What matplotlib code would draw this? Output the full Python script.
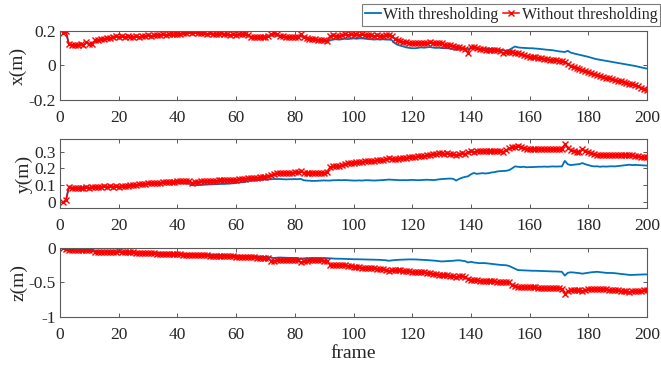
import numpy as np
import matplotlib
matplotlib.use('Agg')
import matplotlib.pyplot as plt
from matplotlib.ticker import FuncFormatter

plt.rcParams['font.family'] = ['Liberation Serif', 'DejaVu Serif']
plt.rcParams['axes.unicode_minus'] = False

frames = np.arange(1, 201)

# x(m)
x_with = [0.19,0.195,0.125,0.12,0.12,0.12,0.122,0.12,0.13,0.125,0.125,0.14,0.142,0.145,0.148,0.152,0.155,0.16,0.165,0.165,
          0.168,0.165,0.168,0.165,0.165,0.168,0.165,0.168,0.17,0.172,0.17,0.172,0.175,0.176,0.178,0.177,0.18,0.18,0.183,0.182,
          0.184,0.186,0.188,0.19,0.188,0.188,0.186,0.185,0.185,0.182,0.183,0.182,0.18,0.182,0.185,0.18,0.178,0.176,0.178,0.175,
          0.178,0.182,0.19,0.178,0.165,0.165,0.162,0.162,0.165,0.163,0.166,0.175,0.178,0.175,0.168,0.165,0.163,0.16,0.162,0.16,
          0.16,0.17,0.162,0.155,0.152,0.148,0.145,0.145,0.143,0.14,0.14,0.145,0.15,0.152,0.15,0.152,0.155,0.153,0.155,0.157,
          0.155,0.157,0.157,0.155,0.153,0.152,0.15,0.152,0.15,0.152,0.15,0.15,0.148,0.13,0.12,0.115,0.11,0.105,0.102,0.1,
          0.1,0.102,0.105,0.103,0.105,0.107,0.104,0.102,0.103,0.101,0.1,0.1,0.097,0.095,0.09,0.095,0.098,0.1,0.095,0.1,
          0.098,0.097,0.095,0.096,0.095,0.097,0.095,0.093,0.092,0.09,0.088,0.085,0.09,0.1,0.11,0.105,0.103,0.102,0.101,0.1,
          0.1,0.098,0.097,0.095,0.093,0.091,0.09,0.088,0.085,0.082,0.08,0.078,0.085,0.075,0.07,0.066,0.062,0.058,0.054,0.05,
          0.045,0.04,0.036,0.033,0.03,0.027,0.024,0.021,0.018,0.015,0.012,0.009,0.006,0.003,0.0,-0.003,-0.007,-0.011,-0.015,-0.018]
x_without = [0.19,0.20,0.125,0.12,0.12,0.12,0.125,0.12,0.135,0.125,0.125,0.15,0.15,0.155,0.155,0.16,0.16,0.165,0.17,0.165,
             0.17,0.165,0.17,0.165,0.165,0.17,0.165,0.17,0.17,0.175,0.17,0.175,0.175,0.178,0.18,0.178,0.18,0.182,0.185,0.183,
             0.185,0.188,0.19,0.195,0.19,0.192,0.19,0.188,0.19,0.185,0.188,0.185,0.183,0.185,0.19,0.182,0.18,0.178,0.18,0.178,
             0.18,0.182,0.185,0.178,0.165,0.168,0.165,0.165,0.168,0.165,0.17,0.18,0.19,0.18,0.172,0.17,0.168,0.165,0.168,0.165,
             0.165,0.182,0.168,0.16,0.155,0.155,0.152,0.15,0.148,0.145,0.142,0.172,0.175,0.17,0.172,0.178,0.18,0.175,0.182,0.178,
             0.18,0.178,0.182,0.175,0.178,0.175,0.172,0.175,0.17,0.172,0.175,0.178,0.172,0.155,0.145,0.14,0.138,0.135,0.132,0.13,
             0.128,0.13,0.128,0.13,0.132,0.135,0.13,0.128,0.13,0.128,0.12,0.118,0.12,0.115,0.11,0.105,0.1,0.095,0.075,0.11,
             0.108,0.1,0.095,0.095,0.09,0.092,0.09,0.09,0.088,0.085,0.072,0.078,0.08,0.078,0.075,0.07,0.065,0.06,0.056,0.052,
             0.05,0.048,0.045,0.042,0.04,0.037,0.034,0.032,0.03,0.027,0.025,0.022,0.01,-0.005,-0.01,-0.015,-0.02,-0.025,-0.03,-0.035,
             -0.045,-0.05,-0.055,-0.06,-0.065,-0.07,-0.075,-0.08,-0.085,-0.088,-0.092,-0.096,-0.1,-0.105,-0.11,-0.115,-0.12,-0.128,-0.135,-0.14]

# y(m)
y_with = [0.0,0.01,0.087,0.085,0.085,0.083,0.085,0.085,0.087,0.086,0.09,0.09,0.09,0.091,0.092,0.092,0.093,0.092,0.093,0.092,
          0.094,0.096,0.097,0.099,0.101,0.102,0.103,0.104,0.105,0.108,0.108,0.11,0.11,0.111,0.112,0.112,0.113,0.113,0.114,0.114,
          0.113,0.112,0.111,0.11,0.1,0.1,0.101,0.102,0.103,0.104,0.105,0.106,0.106,0.107,0.108,0.108,0.109,0.11,0.112,0.114,
          0.116,0.118,0.12,0.124,0.127,0.129,0.13,0.132,0.133,0.134,0.135,0.136,0.137,0.137,0.137,0.136,0.135,0.136,0.136,0.137,
          0.136,0.138,0.13,0.128,0.127,0.126,0.126,0.127,0.128,0.129,0.128,0.128,0.13,0.13,0.131,0.13,0.131,0.13,0.129,0.128,
          0.128,0.129,0.128,0.13,0.13,0.129,0.128,0.129,0.13,0.131,0.132,0.134,0.133,0.132,0.131,0.13,0.131,0.13,0.131,0.132,
          0.131,0.13,0.131,0.132,0.133,0.132,0.131,0.132,0.135,0.137,0.138,0.139,0.14,0.138,0.128,0.138,0.145,0.15,0.153,0.165,
          0.173,0.168,0.17,0.172,0.17,0.172,0.176,0.178,0.182,0.184,0.185,0.186,0.19,0.2,0.212,0.21,0.208,0.21,0.207,0.208,
          0.208,0.209,0.21,0.21,0.211,0.21,0.211,0.212,0.211,0.212,0.212,0.245,0.225,0.22,0.222,0.224,0.226,0.232,0.225,0.22,
          0.215,0.212,0.213,0.21,0.212,0.211,0.212,0.213,0.212,0.214,0.216,0.218,0.22,0.222,0.22,0.221,0.22,0.219,0.218,0.217]
y_without = [0.0,0.01,0.087,0.085,0.085,0.083,0.085,0.085,0.087,0.086,0.09,0.092,0.09,0.092,0.093,0.092,0.093,0.092,0.094,0.092,
             0.095,0.097,0.098,0.1,0.104,0.103,0.105,0.108,0.11,0.114,0.112,0.114,0.113,0.115,0.118,0.117,0.12,0.12,0.122,0.124,
             0.123,0.125,0.124,0.124,0.115,0.122,0.122,0.125,0.125,0.127,0.126,0.128,0.127,0.13,0.13,0.132,0.131,0.133,0.133,0.134,
             0.137,0.14,0.14,0.142,0.143,0.145,0.146,0.147,0.148,0.15,0.155,0.16,0.168,0.172,0.173,0.172,0.174,0.175,0.175,0.176,
             0.178,0.182,0.175,0.173,0.174,0.175,0.174,0.173,0.174,0.175,0.178,0.208,0.212,0.215,0.216,0.22,0.228,0.23,0.232,0.235,
             0.238,0.24,0.241,0.243,0.243,0.245,0.247,0.248,0.25,0.252,0.255,0.26,0.258,0.255,0.258,0.26,0.262,0.265,0.266,0.27,
             0.27,0.272,0.274,0.275,0.278,0.282,0.284,0.287,0.29,0.29,0.288,0.29,0.287,0.283,0.28,0.285,0.29,0.288,0.295,0.302,
             0.3,0.302,0.303,0.305,0.306,0.305,0.306,0.305,0.306,0.304,0.3,0.31,0.32,0.325,0.33,0.332,0.325,0.322,0.318,0.316,
             0.314,0.315,0.316,0.315,0.316,0.315,0.314,0.315,0.314,0.315,0.316,0.345,0.32,0.31,0.305,0.3,0.296,0.315,0.302,0.298,
             0.29,0.285,0.28,0.282,0.28,0.279,0.28,0.281,0.279,0.28,0.281,0.282,0.28,0.28,0.279,0.275,0.272,0.27,0.267,0.268]

# z(m)
z_with = [0.0,-0.015,-0.02,-0.023,-0.025,-0.027,-0.028,-0.03,-0.03,-0.032,-0.033,-0.045,-0.048,-0.05,-0.05,-0.05,-0.05,-0.05,-0.05,-0.05,
          -0.052,-0.054,-0.056,-0.058,-0.06,-0.062,-0.063,-0.065,-0.067,-0.068,-0.07,-0.072,-0.073,-0.075,-0.076,-0.078,-0.08,-0.081,-0.083,-0.085,
          -0.086,-0.087,-0.089,-0.09,-0.092,-0.093,-0.094,-0.095,-0.097,-0.098,-0.1,-0.101,-0.103,-0.104,-0.106,-0.107,-0.109,-0.11,-0.112,-0.113,
          -0.115,-0.116,-0.118,-0.12,-0.121,-0.123,-0.124,-0.126,-0.128,-0.13,-0.132,-0.14,-0.145,-0.14,-0.138,-0.14,-0.142,-0.143,-0.145,-0.145,
          -0.146,-0.16,-0.15,-0.148,-0.147,-0.147,-0.146,-0.146,-0.147,-0.145,-0.147,-0.15,-0.152,-0.155,-0.155,-0.156,-0.158,-0.16,-0.162,-0.163,
          -0.163,-0.164,-0.165,-0.166,-0.166,-0.167,-0.168,-0.17,-0.172,-0.175,-0.178,-0.185,-0.18,-0.175,-0.172,-0.17,-0.168,-0.167,-0.165,-0.165,
          -0.166,-0.168,-0.17,-0.172,-0.175,-0.178,-0.18,-0.185,-0.19,-0.195,-0.192,-0.19,-0.188,-0.185,-0.18,-0.178,-0.185,-0.19,-0.21,-0.2,
          -0.21,-0.215,-0.22,-0.218,-0.22,-0.225,-0.23,-0.235,-0.24,-0.245,-0.248,-0.25,-0.26,-0.28,-0.3,-0.32,-0.322,-0.325,-0.325,-0.328,
          -0.33,-0.33,-0.332,-0.333,-0.335,-0.336,-0.338,-0.34,-0.34,-0.342,-0.345,-0.4,-0.36,-0.352,-0.355,-0.36,-0.365,-0.372,-0.365,-0.358,
          -0.352,-0.348,-0.345,-0.35,-0.355,-0.36,-0.362,-0.362,-0.365,-0.37,-0.375,-0.38,-0.385,-0.39,-0.39,-0.388,-0.385,-0.385,-0.383,-0.383]
z_without = [0.0,-0.02,-0.025,-0.028,-0.03,-0.03,-0.03,-0.03,-0.032,-0.03,-0.035,-0.06,-0.063,-0.062,-0.06,-0.058,-0.056,-0.055,-0.052,-0.05,
             -0.055,-0.058,-0.06,-0.062,-0.065,-0.067,-0.068,-0.07,-0.072,-0.075,-0.076,-0.078,-0.08,-0.082,-0.083,-0.085,-0.087,-0.088,-0.09,-0.092,
             -0.094,-0.095,-0.097,-0.098,-0.1,-0.102,-0.103,-0.105,-0.107,-0.108,-0.11,-0.112,-0.113,-0.115,-0.117,-0.118,-0.12,-0.122,-0.123,-0.125,
             -0.127,-0.128,-0.13,-0.132,-0.134,-0.136,-0.138,-0.14,-0.142,-0.145,-0.15,-0.19,-0.185,-0.175,-0.172,-0.175,-0.173,-0.172,-0.175,-0.176,
             -0.178,-0.21,-0.19,-0.182,-0.18,-0.18,-0.178,-0.18,-0.18,-0.182,-0.19,-0.24,-0.245,-0.245,-0.243,-0.247,-0.25,-0.26,-0.268,-0.272,
             -0.275,-0.28,-0.285,-0.288,-0.29,-0.292,-0.296,-0.3,-0.305,-0.31,-0.315,-0.33,-0.32,-0.318,-0.322,-0.325,-0.33,-0.335,-0.338,-0.343,
             -0.345,-0.35,-0.352,-0.355,-0.36,-0.365,-0.37,-0.38,-0.385,-0.39,-0.395,-0.398,-0.4,-0.405,-0.415,-0.412,-0.41,-0.42,-0.45,-0.46,
             -0.47,-0.47,-0.475,-0.472,-0.475,-0.478,-0.48,-0.485,-0.488,-0.49,-0.49,-0.488,-0.5,-0.535,-0.55,-0.56,-0.565,-0.565,-0.57,-0.57,
             -0.57,-0.572,-0.575,-0.575,-0.578,-0.58,-0.58,-0.582,-0.583,-0.585,-0.588,-0.667,-0.62,-0.61,-0.612,-0.615,-0.615,-0.625,-0.61,-0.6,
             -0.595,-0.59,-0.588,-0.592,-0.595,-0.6,-0.605,-0.61,-0.612,-0.615,-0.62,-0.625,-0.63,-0.633,-0.63,-0.625,-0.62,-0.62,-0.615,-0.61]

series = [(x_with, x_without, 'x(m)', (-0.2, 0.2), [-0.2, 0, 0.2]),
          (y_with, y_without, 'y(m)', (-0.035, 0.375), [0, 0.1, 0.2, 0.3]),
          (z_with, z_without, 'z(m)', (-1, 0), [-1, -0.5, 0])]

blue = '#0072BD'
txt = '#262626'
edge = '#5a5a5a'

fig = plt.figure(figsize=(6.61, 3.68), dpi=100)
bottoms = [0.7283, 0.4348, 0.1386]

def fmt(v, pos):
    s = ('%.1f' % v)
    if s in ('0.0', '-0.0'):
        return '0'
    if s.endswith('.0'):
        return s[:-2]
    return s

for i, (w, wo, lab, yl, yt) in enumerate(series):
    ax = fig.add_axes([0.0908, bottoms[i], 0.888, 0.1875])
    l1, = ax.plot(frames, w, color=blue, lw=1.3, label='With thresholding')
    l2, = ax.plot(frames, wo, color='r', lw=1.1, marker='x', ms=4.2, mew=1.0,
                  label='Without thresholding')
    ax.set_xlim(0, 200)
    ax.set_ylim(*yl)
    ax.set_xticks(np.arange(0, 201, 20))
    ax.set_yticks(yt)
    ax.yaxis.set_major_formatter(FuncFormatter(fmt))
    ax.tick_params(direction='in', top=True, right=True, length=3, width=0.7,
                   colors=edge, labelcolor=txt, labelsize=12.5)
    ax.tick_params(axis='x', pad=7.5)
    ax.tick_params(axis='y', pad=3)
    for s in ax.spines.values():
        s.set_color(edge)
        s.set_linewidth(0.8)
    ax.set_ylabel(lab, fontsize=14, color=txt, labelpad=1)
    if i == 2:
        ax.set_xlabel('frame', fontsize=14, color=txt, labelpad=1)

leg = fig.legend([l1, l2], ['With thresholding', 'Without thresholding'],
                 loc='upper right', bbox_to_anchor=(0.999, 0.99), ncol=2,
                 fontsize=11.5, frameon=True, fancybox=False,
                 handlelength=1.0, handletextpad=0.15, columnspacing=0.3,
                 borderpad=0.2, borderaxespad=0)
leg.get_frame().set_edgecolor(edge)
leg.get_frame().set_linewidth(0.8)
for t in leg.get_texts():
    t.set_color(txt)

fig.savefig('out.png', dpi=100)
